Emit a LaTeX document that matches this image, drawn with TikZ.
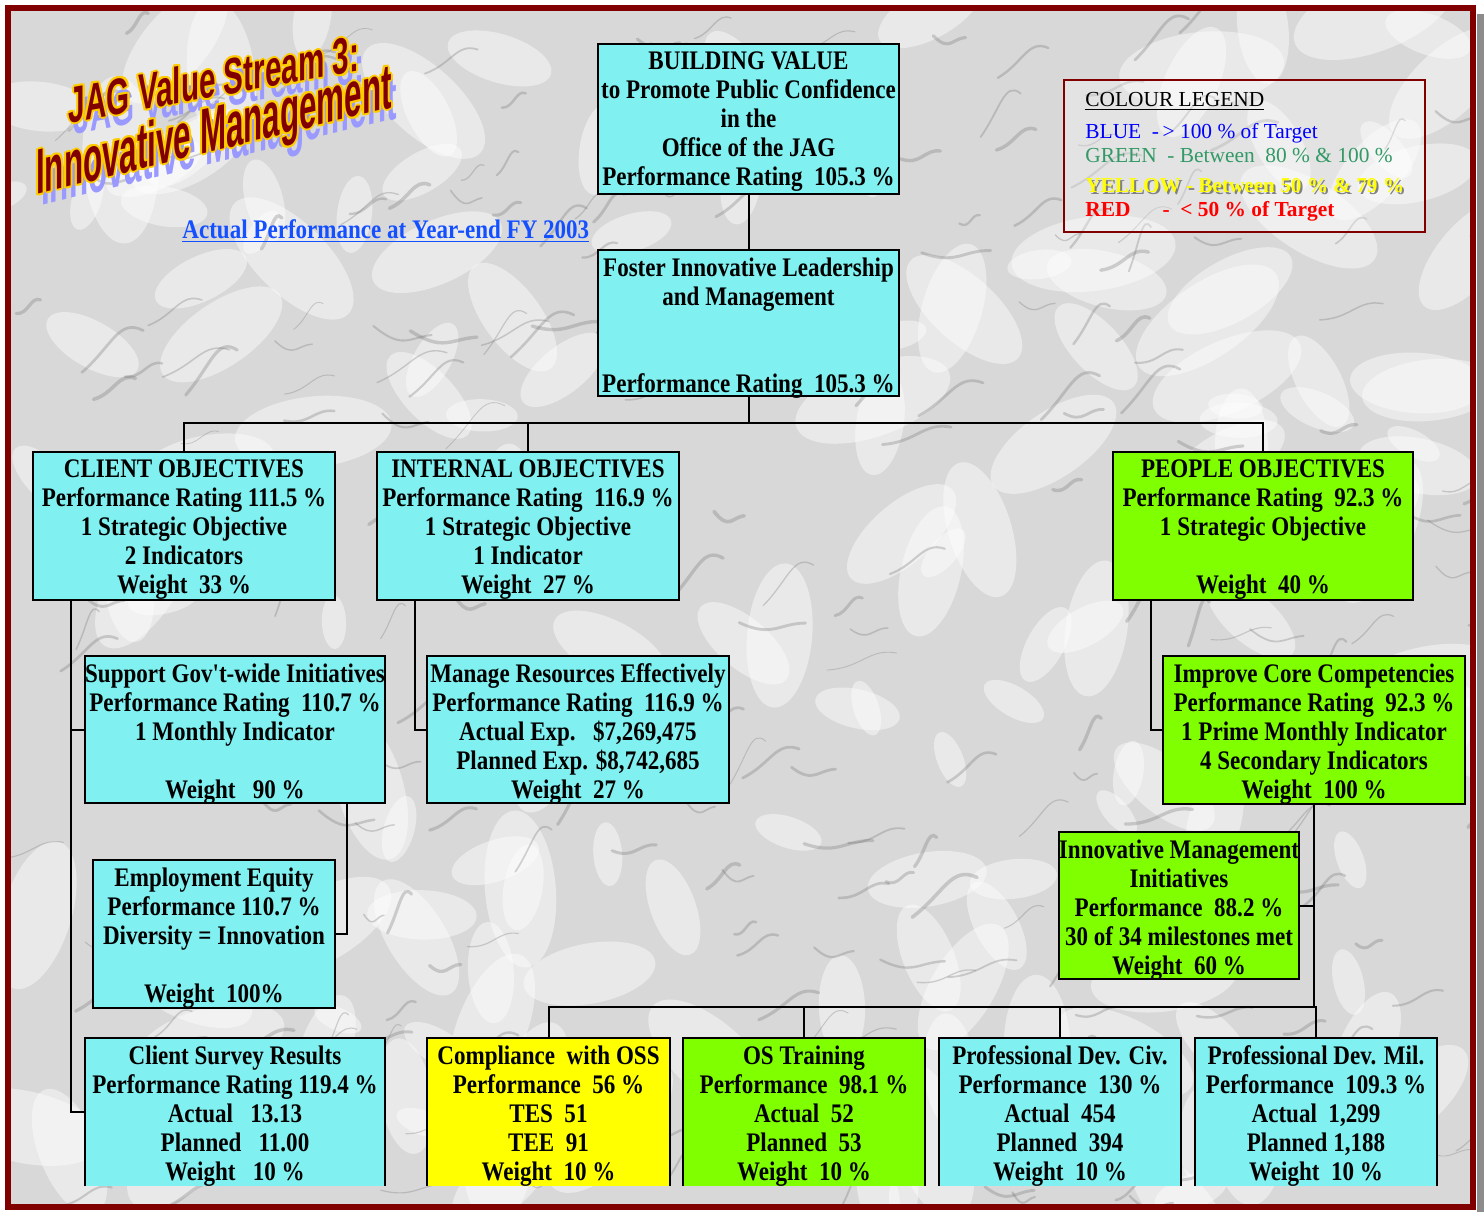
\documentclass[tikz,border=0pt]{standalone}
\usepackage{fontspec}
\setmainfont{Liberation Serif}
\newfontfamily\condfont{Liberation Serif}[FakeStretch=0.86]
\newfontfamily\titleAfont{Liberation Sans}[FakeStretch=0.582]
\newfontfamily\titleBfont{Liberation Sans}[FakeStretch=0.49]
\usetikzlibrary{fit}
\definecolor{cyanfill}{RGB}{128,240,240}
\definecolor{greenfill}{RGB}{128,255,0}
\definecolor{yellowfill}{RGB}{255,255,0}
\definecolor{framered}{RGB}{128,0,0}
\definecolor{marble}{RGB}{216,216,216}
\definecolor{subblue}{RGB}{20,80,255}
\definecolor{legblue}{RGB}{0,0,255}
\definecolor{leggreen}{RGB}{51,153,102}
\definecolor{legred}{RGB}{255,0,0}
\definecolor{wared}{RGB}{128,0,0}
\definecolor{wagold}{RGB}{255,204,0}
\definecolor{washadow}{RGB}{153,153,255}
\tikzset{
  boxtxt/.style={font=\condfont\bfseries\fontsize{13.4}{14.5}\selectfont, align=center, inner sep=0pt, outer sep=0pt},
  boxbase/.style={inner sep=0pt, outer sep=0pt},
  cbox/.style={boxbase, draw=black, line width=1.25pt, fill=cyanfill},
  gbox/.style={boxbase, draw=black, line width=1.25pt, fill=greenfill},
  openc/.style={boxbase, fill=cyanfill},
  openg/.style={boxbase, fill=greenfill},
  openy/.style={boxbase, fill=yellowfill},
  openedge/.style={draw=black, line width=1.25pt},
  conn/.style={draw=black, line width=1pt},
  wa/.style={anchor=base, inner sep=0pt, outer sep=0pt, transform shape},
  legtxt/.style={anchor=base west, inner sep=0pt, font=\fontsize{10.7}{12}\selectfont},
}
% box: style, name, x1, y1, x2, y2, text
\newcommand{\bx}[7]{%
  \node[#1, anchor=north west, minimum width={(#5-#3)*0.5pt}, minimum height={(#6-#4)*0.5pt}] (#2) at (#3,#4) {};
  \node[boxtxt, anchor=north] (#2-t) at ([yshift=-4pt]#2.north) {#7};
}
% word art line: name, x, y, slant, font, text
\newcommand{\wordartline}[6]{%
  \node[wa, yslant=#4, font=#5, text=washadow] (#1s) at ([shift={(5,11)}]#2,#3) {#6};
  \foreach \dx/\dy [count=\k] in {-2/0,2/0,0/-2,0/2,-1.5/-1.5,1.5/-1.5,-1.5/1.5,1.5/1.5}{
    \node[wa, yslant=#4, font=#5, text=wagold] (#1o\k) at ([shift={(\dx,\dy)}]#2,#3) {#6};
  }
  \node[wa, yslant=#4, font=#5, text=wared] (#1) at (#2,#3) {#6};
}
\begin{document}
\begin{tikzpicture}[x=0.5pt, y=-0.5pt]
\useasboundingbox (0,0) rectangle (1484,1212);
\fill[white] (0,0) rectangle (1484,1212);
\fill[black!45] (1477,14) rectangle (1484,1212);
% marble background
\begin{scope}
  \clip (8,8) rectangle (1473,1207);
  \fill[marble] (8,8) rectangle (1473,1207);
  \pgfmathsetseed{12345}
  \foreach \i in {1,...,170}{
    \pgfmathsetmacro{\xa}{1480*rnd}
    \pgfmathsetmacro{\ya}{1210*rnd}
    \pgfmathsetmacro{\ra}{25+60*rnd}
    \pgfmathsetmacro{\an}{180*rnd}
    \fill[white, opacity=0.45, rotate around={\an:(\xa,\ya)}] (\xa,\ya) ellipse [x radius=\ra, y radius=0.45*\ra];
  }
  \foreach \i in {1,...,280}{
    \pgfmathsetmacro{\xa}{1480*rnd}
    \pgfmathsetmacro{\ya}{1210*rnd}
    \pgfmathsetmacro{\ddx}{20+50*rnd}
    \pgfmathsetmacro{\ddy}{-45+55*rnd}
    \pgfmathsetmacro{\ww}{0.4+1.4*rnd}
    \draw[black!55, opacity=0.3, line width=\ww pt, line cap=round] (\xa,\ya) .. controls +(0.5*\ddx,\ddy+15) and +(-0.4*\ddx,0.3*\ddy) .. +(\ddx,\ddy);
  }
\end{scope}
\draw[framered, line width=3.25pt] (8,8) rectangle (1473,1207);

% title word art
\wordartline{titleA}{214}{97}{0.18}{\titleAfont\bfseries\fontsize{25.5}{27}\selectfont}{JAG Value Stream 3:}
\wordartline{titleB}{214}{151}{0.245}{\titleBfont\bfseries\fontsize{32}{34}\selectfont}{Innovative Management}

% subtitle
\node[anchor=base west, inner sep=0pt, text=subblue, font=\condfont\bfseries\fontsize{13.4}{14.5}\selectfont] (subtitle) at (182,238) {\underline{Actual Performance at Year-end FY 2003}};

% legend
\node[fit={(1064,80)(1425,232)}, inner sep=0pt, outer sep=0pt, draw=framered, line width=1pt, fill=white, fill opacity=0.3] (legend) {};
\node[legtxt] (lg0) at (1085,106) {\underline{COLOUR LEGEND}};
\node[legtxt, text=legblue] (lg1) at (1085,138) {BLUE\ \ -\,{>}\ 100 \% of Target};
\node[legtxt, text=leggreen] (lg2) at (1085,162) {GREEN\ \ - Between\ \ 80 \% \& 100 \%};
\node[legtxt, text=black!50, font=\bfseries\fontsize{10.6}{12}\selectfont] (lg3s) at (1087,194) {YELLOW - Between 50 \% \& 79 \%};
\node[legtxt, text=yellowfill, font=\bfseries\fontsize{10.6}{12}\selectfont] (lg3) at (1085,192) {YELLOW - Between 50 \% \& 79 \%};
\node[legtxt, text=legred, font=\bfseries\fontsize{10.7}{12}\selectfont] (lg4) at (1085,216) {RED\hspace{16pt}-\ \ {<} 50 \% of Target};

% level 0/1
\bx{cbox}{top}{598}{44}{899}{194}{BUILDING VALUE\\to Promote Public Confidence\\in the\\Office of the JAG\\Performance Rating\ \ 105.3 \%}
\bx{cbox}{foster}{598}{250}{899}{396}{Foster Innovative Leadership\\and Management\\[29pt]Performance Rating\ \ 105.3 \%}

% objectives
\bx{cbox}{client}{33}{452}{335}{600}{CLIENT OBJECTIVES\\Performance Rating 111.5 \%\\1 Strategic Objective\\2 Indicators\\Weight\ \ 33 \%}
\bx{cbox}{internal}{377}{452}{679}{600}{INTERNAL OBJECTIVES\\Performance Rating\ \ 116.9 \%\\1 Strategic Objective\\1 Indicator\\Weight\ \ 27 \%}
\bx{gbox}{people}{1113}{452}{1413}{600}{PEOPLE OBJECTIVES\\Performance Rating\ \ 92.3 \%\\1 Strategic Objective\\[14.5pt]Weight\ \ 40 \%}

% strategic objectives
\bx{cbox}{support}{85}{656}{385}{803}{Support Gov't-wide Initiatives\\Performance Rating\ \ 110.7 \%\\1 Monthly Indicator\\[14.5pt]Weight\ \ \ 90 \%}
\bx{cbox}{manage}{427}{656}{729}{803}{Manage Resources Effectively\\Performance Rating\ \ 116.9 \%\\Actual Exp.\ \ \ \$7,269,475\\Planned Exp. \$8,742,685\\Weight\ \ 27 \%}
\bx{gbox}{improve}{1163}{656}{1465}{804}{Improve Core Competencies\\Performance Rating\ \ 92.3 \%\\1 Prime Monthly Indicator\\4 Secondary Indicators\\Weight\ \ 100 \%}

\bx{cbox}{employ}{93}{860}{335}{1008}{Employment Equity\\Performance 110.7 \%\\Diversity = Innovation\\[14.5pt]Weight\ \ 100\%}
\bx{gbox}{innov}{1059}{832}{1299}{979}{Innovative Management\\Initiatives\\Performance\ \ 88.2 \%\\30 of 34 milestones met\\Weight\ \ 60 \%}

% bottom (open) boxes
\bx{openc}{survey}{85}{1038}{385}{1186}{Client Survey Results\\Performance Rating 119.4 \%\\Actual\ \ \ 13.13\\Planned\ \ \ 11.00\\Weight\ \ \ 10 \%}
\bx{openy}{compl}{427}{1038}{670}{1186}{Compliance\ \ with OSS\\Performance\ \ 56 \%\\TES\ \ 51\\TEE\ \ 91\\Weight\ \ 10 \%}
\bx{openg}{os}{683}{1038}{925}{1186}{OS Training\\Performance\ \ 98.1 \%\\Actual\ \ 52\\Planned\ \ 53\\Weight\ \ 10 \%}
\bx{openc}{civ}{939}{1038}{1181}{1186}{Professional Dev. Civ.\\Performance\ \ 130 \%\\Actual\ \ 454\\Planned\ \ 394\\Weight\ \ 10 \%}
\bx{openc}{mil}{1195}{1038}{1437}{1186}{Professional Dev. Mil.\\Performance\ \ 109.3 \%\\Actual\ \ 1,299\\Planned 1,188\\Weight\ \ 10 \%}
\foreach \n in {survey,compl,os,civ,mil}{
  \draw[openedge] (\n.south west) -- (\n.north west) -- (\n.north east) -- (\n.south east);
}

% connectors
\coordinate (busA) at (0,423);
\coordinate (busB) at (0,1007);
\draw[conn] (top.south) -- (foster.north);
\draw[conn] (foster.south) -- (foster.south |- busA);
\draw[conn] (client.north) -- (client.north |- busA) -- (people.north |- busA) -- (people.north);
\draw[conn] (internal.north) -- (internal.north |- busA);

\coordinate (ctr) at ([xshift=19pt]client.south west);
\draw[conn] (ctr) |- (survey.west);
\draw[conn] (ctr |- support.west) -- (support.west);
\coordinate (itr) at ([xshift=19pt]internal.south west);
\draw[conn] (itr) |- (manage.west);
\coordinate (ptr) at ([xshift=19pt]people.south west);
\draw[conn] (ptr) |- (improve.west);
\coordinate (str) at ([xshift=-19pt]support.south east);
\draw[conn] (str) |- (employ.east);
\draw[conn] (improve.south) -- (improve.south |- busB);
\draw[conn] (improve.south |- innov.east) -- (innov.east);
\draw[conn] (compl.north) -- (compl.north |- busB) -- (mil.north |- busB) -- (mil.north);
\draw[conn] (os.north) -- (os.north |- busB);
\draw[conn] (civ.north) -- (civ.north |- busB);
\end{tikzpicture}
\end{document}
